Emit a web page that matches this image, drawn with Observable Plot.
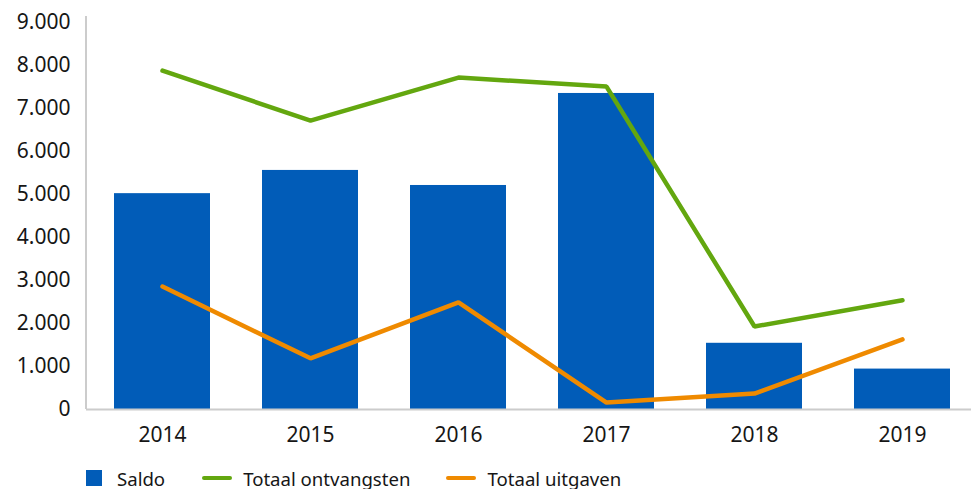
<!DOCTYPE html>
<html>
<head>
<meta charset="utf-8">
<script src="https://cdn.jsdelivr.net/npm/d3@7"></script>
<script src="https://cdn.jsdelivr.net/npm/@observablehq/plot@0.6"></script>
<style>
  html, body { margin: 0; padding: 0; background: #fff; }
  body { width: 971px; height: 489px; overflow: hidden; font-family: "Noto Sans", sans-serif; color: #161616; }
  #chart { width: 971px; overflow: hidden; height: 455px; }
  #chart svg { max-width: none !important; }
  #legend { display: flex; align-items: center; height: 30px; margin-top: 8px; margin-left: 86px; font-size: 18.6px; color: #161616; }
  .item { display: flex; align-items: center; }
  .sw { width: 16px; height: 16px; margin-right: 15px; }
  .ln { width: 30px; height: 4px; border-radius: 2px; margin-right: 11px; }
</style>
</head>
<body>
<div id="chart"></div>
<div id="legend"></div>
<script>
const years = ["2014", "2015", "2016", "2017", "2018", "2019"];
const saldo = [5020, 5560, 5210, 7350, 1540, 940];
const ontvangsten = [7880, 6720, 7720, 7510, 1930, 2540];
const uitgaven = [2860, 1190, 2490, 160, 370, 1630];
const yTicks = [0, 1000, 2000, 3000, 4000, 5000, 6000, 7000, 8000, 9000];
const seriesNames = ["Saldo", "Totaal ontvangsten", "Totaal uitgaven"];
const colors = { bar: "#015cb8", green: "#63a70f", orange: "#ef8a00" };

const fmt = d3.formatLocale({ decimal: ",", thousands: ".", grouping: [3], currency: ["€", ""] }).format(",");

const barData = years.map((y, i) => ({ year: y, value: saldo[i] }));
const greenData = years.map((y, i) => ({ year: y, value: ontvangsten[i] }));
const orangeData = years.map((y, i) => ({ year: y, value: uitgaven[i] }));

// left axis line drawn at the frame's left edge
const leftAxisLine = (index, scales, values, dims) => {
  const l = d3.create("svg:line")
    .attr("x1", dims.marginLeft).attr("x2", dims.marginLeft)
    .attr("y1", dims.marginTop).attr("y2", dims.height - dims.marginBottom)
    .attr("stroke", "#cccccc").attr("stroke-width", 2);
  return l.node();
};

const plot = Plot.plot({
  width: 978,
  height: 455,
  marginLeft: 86,
  marginRight: 0,
  marginTop: 16,
  marginBottom: 46,
  style: { fontFamily: "Noto Sans, sans-serif", fontSize: "21px", color: "#161616", background: "#fff", maxWidth: "none" },
  x: { domain: years, paddingInner: 0.35, paddingOuter: 0.175, label: null },
  y: { domain: [0, 9140], label: null },
  marks: [
    Plot.barY(barData, { x: "year", y: "value", fill: colors.bar }),
    Plot.ruleY([0], { stroke: "#cccccc", strokeWidth: 2 }),
    leftAxisLine,
    Plot.axisY({ ticks: yTicks, tickFormat: fmt, tickSize: 0, tickPadding: 16, fontSize: 21, label: null }),
    Plot.axisX({ tickSize: 0, tickPadding: 18, fontSize: 21, label: null }),
    Plot.line(greenData, { x: "year", y: "value", stroke: colors.green, strokeWidth: 4.5, strokeLinejoin: "miter" }),
    Plot.line(orangeData, { x: "year", y: "value", stroke: colors.orange, strokeWidth: 4.5, strokeLinejoin: "miter" })
  ]
});
document.getElementById("chart").appendChild(plot);

const legend = document.getElementById("legend");
const legendSpec = [
  { name: seriesNames[0], type: "sw", color: colors.bar, gap: 0 },
  { name: seriesNames[1], type: "ln", color: colors.green, gap: 37 },
  { name: seriesNames[2], type: "ln", color: colors.orange, gap: 36 }
];
legendSpec.forEach(s => {
  const it = document.createElement("div");
  it.className = "item";
  it.style.marginLeft = s.gap + "px";
  const sw = document.createElement("div");
  sw.className = s.type;
  sw.style.background = s.color;
  const tx = document.createElement("span");
  tx.textContent = s.name;
  it.appendChild(sw);
  it.appendChild(tx);
  legend.appendChild(it);
});
</script>
</body>
</html>
